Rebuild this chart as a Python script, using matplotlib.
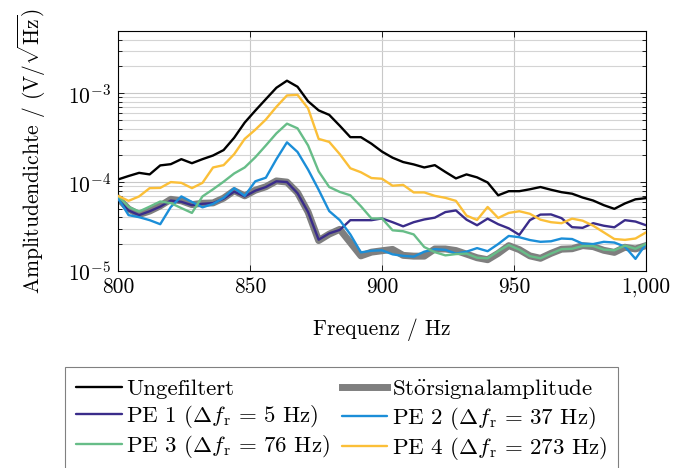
import numpy as np
import matplotlib
matplotlib.use("Agg")
from matplotlib import pyplot as plt
from matplotlib import ticker

plt.rcParams["font.family"] = ["cmr10", "DejaVu Serif"]
plt.rcParams["mathtext.fontset"] = "cm"
plt.rcParams["axes.formatter.use_mathtext"] = True
plt.rcParams["font.size"] = 15.5

# Frequenzraster in Hz, Amplituden in 1e-5 V/sqrt(Hz)
frequenz = np.arange(800, 1001, 4)
skala = 1e-5

ungefiltert = [10.7, 11.7, 12.7, 12.2, 15.4, 15.9, 18.1, 16.3, 18.1, 19.9,
               22.9, 31.5, 46.7, 63.6, 85.6, 115, 138, 118, 81, 64,
               57, 43, 32, 32, 27, 22, 18.8, 16.8, 15.8, 14.6,
               15.5, 13.0, 11.0, 12.2, 11.3, 9.9, 7.1, 7.9, 7.9, 8.3,
               8.8, 8.2, 7.7, 7.4, 6.7, 6.2, 5.5, 5.0, 5.75, 6.4, 6.6]
stoersignal = [6.6, 4.98, 4.31, 4.72, 5.4, 6.4, 6.15, 5.58, 5.78, 5.83,
               6.6, 8.0, 7.0, 8.1, 8.86, 10.3, 10.0, 7.6, 4.6, 2.2,
               2.6, 2.94, 2.09, 1.48, 1.63, 1.69, 1.75, 1.50, 1.47, 1.47,
               1.77, 1.77, 1.70, 1.55, 1.41, 1.34, 1.58, 1.93, 1.74, 1.48,
               1.39, 1.58, 1.76, 1.78, 1.93, 1.88, 1.71, 1.62, 1.85, 1.77, 1.93]
pe1 = [6.5, 4.8, 4.25, 4.7, 5.3, 6.2, 6.0, 5.5, 5.7, 5.8,
       6.5, 7.8, 6.9, 8.0, 8.8, 10.2, 10.0, 7.5, 4.6, 2.25,
       2.65, 2.9, 3.73, 3.73, 3.73, 3.9, 3.54, 3.18, 3.54, 3.8,
       3.98, 4.6, 4.8, 3.78, 3.27, 3.88, 3.36, 3.02, 2.55, 3.73,
       4.31, 4.33, 3.93, 3.11, 3.06, 3.45, 3.23, 3.1, 3.73, 3.6, 3.27]
pe2 = [6.6, 4.25, 4.03, 3.73, 3.36, 5.25, 6.9, 5.98, 5.2, 5.68,
       6.65, 8.55, 7.0, 10.2, 11.2, 18.1, 28.0, 21.8, 13.8, 8.2,
       4.72, 3.73, 2.58, 1.62, 1.69, 1.71, 1.54, 1.48, 1.45, 1.65,
       1.76, 1.73, 1.57, 1.65, 1.81, 1.67, 2.01, 2.48, 2.4, 2.23,
       2.13, 2.16, 2.32, 2.29, 2.03, 2.01, 2.13, 2.09, 1.88, 1.37, 2.02]
pe3 = [7.0, 5.25, 4.67, 5.3, 6.05, 5.8, 5.1, 4.5, 6.9, 8.3,
       10.1, 12.5, 14.6, 19.0, 25.8, 35.3, 45.4, 40.2, 25.8, 13.2,
       8.8, 7.75, 7.1, 5.35, 3.9, 3.9, 2.87, 2.8, 2.58, 1.86,
       1.63, 1.50, 1.55, 1.57, 1.41, 1.39, 1.67, 1.96, 1.74, 1.47,
       1.39, 1.57, 1.76, 1.78, 1.91, 1.91, 1.74, 1.71, 1.93, 1.78, 2.02]
pe4 = [7.0, 6.15, 6.9, 8.55, 8.6, 10.0, 9.8, 8.55, 9.8, 14.6,
       15.5, 20.6, 30.6, 38.8, 50.5, 70.2, 94.2, 95.6, 67.4, 30.6,
       28.3, 20.6, 14.3, 12.9, 11.1, 10.9, 9.1, 9.3, 7.65, 7.65,
       7.0, 6.65, 6.15, 4.2, 3.75, 5.25, 3.95, 4.5, 4.7, 4.4,
       3.78, 3.54, 3.45, 3.88, 3.68, 3.23, 2.72, 2.29, 2.24, 2.32, 2.72]

fig = plt.figure(figsize=(6.88, 4.68), dpi=100)
ax = fig.add_axes([0.1715, 0.4209, 0.7675, 0.5129])

def werte(reihe):
    return np.array(reihe) * skala

def pe_label(nr, df):
    return rf"PE {nr} ($\Delta f_\mathrm{{r}}\,=\,{df}$ Hz)"

stil = dict(lw=1.7, solid_joinstyle="round", solid_capstyle="round")
h_stoer, = ax.plot(frequenz, werte(stoersignal), color="#7f7f7f", lw=5,
                   solid_joinstyle="round",
                   label=r"St$\ddot{\mathrm{o}}$rsignalamplitude", zorder=2)
h_pe1, = ax.plot(frequenz, werte(pe1), color="#3a2c8a",
                 label=pe_label(1, 5), zorder=3, **stil)
h_pe2, = ax.plot(frequenz, werte(pe2), color="#1b8ed8",
                 label=pe_label(2, 37), zorder=3, **stil)
h_pe3, = ax.plot(frequenz, werte(pe3), color="#67bd88",
                 label=pe_label(3, 76), zorder=3, **stil)
h_pe4, = ax.plot(frequenz, werte(pe4), color="#fbbf38",
                 label=pe_label(4, 273), zorder=3, **stil)
h_ung, = ax.plot(frequenz, werte(ungefiltert), color="black",
                 label="Ungefiltert", zorder=4, **stil)

ax.set_yscale("log")
ax.set_xlim(800, 1000)
ax.set_ylim(1e-5, 5e-3)
ax.set_xticks([800, 850, 900, 950, 1000])
ax.xaxis.set_major_formatter(ticker.FuncFormatter(lambda v, p: f"{v:,.0f}"))
ax.yaxis.set_major_locator(ticker.LogLocator(base=10, numticks=10))
ax.yaxis.set_minor_locator(ticker.LogLocator(base=10, subs=np.arange(2, 10), numticks=10))
ax.yaxis.set_minor_formatter(ticker.NullFormatter())

ax.grid(True, which="major", axis="both", color="#c8c8c8", lw=0.8, zorder=0)
ax.grid(True, which="minor", axis="y", color="#d4d4d4", lw=0.8, zorder=0)
ax.set_axisbelow(True)
ax.tick_params(which="both", direction="in", top=True, right=True, labelsize=15.5)
ax.tick_params(which="major", length=4.5, width=0.6, pad=5)
ax.tick_params(which="minor", length=3, width=0.6)
for s in ax.spines.values():
    s.set_linewidth(0.8)

ax.set_xlabel("Frequenz / Hz", fontsize=15.5, labelpad=15)
ax.set_ylabel(r"Amplitudendichte / (V/$\sqrt{\mathrm{Hz}}$)", fontsize=15.5, labelpad=14)

handles = [h_ung, h_pe1, h_pe3, h_stoer, h_pe2, h_pe4]
leg = fig.legend(handles=handles, labels=[h.get_label() for h in handles],
                 ncol=2, loc="upper center", bbox_to_anchor=(0.4964, 0.2158),
                 fancybox=False, framealpha=1, edgecolor="#808080",
                 handlelength=2.0, columnspacing=0.5, labelspacing=0.15,
                 handletextpad=0.2, borderpad=0.45, borderaxespad=0,
                 fontsize=16.5)
leg.get_frame().set_linewidth(0.8)

fig.savefig("out.png", dpi=100)
